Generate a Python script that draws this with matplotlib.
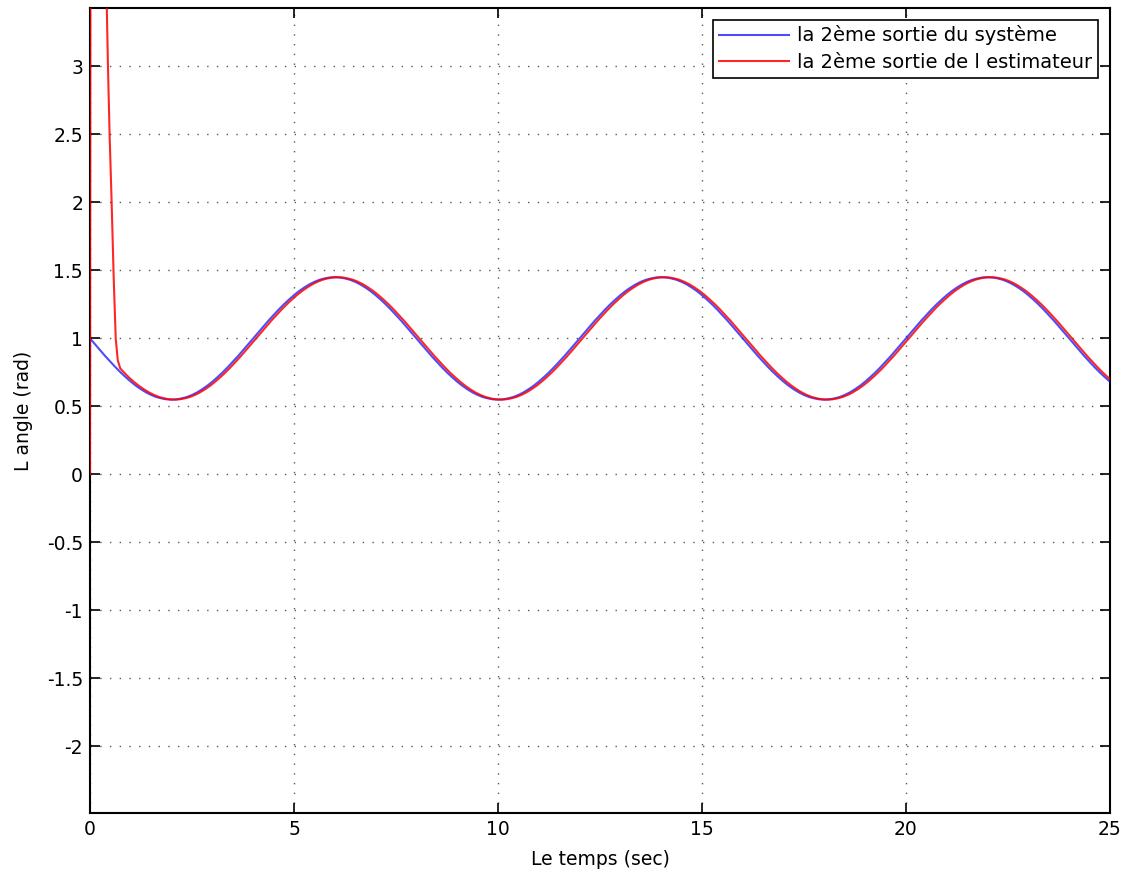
import numpy as np
import matplotlib
matplotlib.use("Agg")
import matplotlib.pyplot as plt

plt.rcParams['font.family'] = ['DejaVu Sans']

# Blue: system output, sampled every 0.125 s from 0 to 25 s
blue_t = np.linspace(0, 25, 201)
blue_y = [
    1.000, 0.956, 0.912, 0.869, 0.828, 0.788, 0.750, 0.715, 0.682, 0.652, 0.626, 0.603, 0.584, 0.569, 0.559, 0.552,
    0.550, 0.552, 0.559, 0.569, 0.584, 0.603, 0.626, 0.652, 0.682, 0.715, 0.750, 0.788, 0.828, 0.869, 0.912, 0.956,
    1.000, 1.044, 1.088, 1.131, 1.172, 1.212, 1.250, 1.285, 1.318, 1.348, 1.374, 1.397, 1.416, 1.431, 1.441, 1.448,
    1.450, 1.448, 1.441, 1.431, 1.416, 1.397, 1.374, 1.348, 1.318, 1.285, 1.250, 1.212, 1.172, 1.131, 1.088, 1.044,
    1.000, 0.956, 0.912, 0.869, 0.828, 0.788, 0.750, 0.715, 0.682, 0.652, 0.626, 0.603, 0.584, 0.569, 0.559, 0.552,
    0.550, 0.552, 0.559, 0.569, 0.584, 0.603, 0.626, 0.652, 0.682, 0.715, 0.750, 0.788, 0.828, 0.869, 0.912, 0.956,
    1.000, 1.044, 1.088, 1.131, 1.172, 1.212, 1.250, 1.285, 1.318, 1.348, 1.374, 1.397, 1.416, 1.431, 1.441, 1.448,
    1.450, 1.448, 1.441, 1.431, 1.416, 1.397, 1.374, 1.348, 1.318, 1.285, 1.250, 1.212, 1.172, 1.131, 1.088, 1.044,
    1.000, 0.956, 0.912, 0.869, 0.828, 0.788, 0.750, 0.715, 0.682, 0.652, 0.626, 0.603, 0.584, 0.569, 0.559, 0.552,
    0.550, 0.552, 0.559, 0.569, 0.584, 0.603, 0.626, 0.652, 0.682, 0.715, 0.750, 0.788, 0.828, 0.869, 0.912, 0.956,
    1.000, 1.044, 1.088, 1.131, 1.172, 1.212, 1.250, 1.285, 1.318, 1.348, 1.374, 1.397, 1.416, 1.431, 1.441, 1.448,
    1.450, 1.448, 1.441, 1.431, 1.416, 1.397, 1.374, 1.348, 1.318, 1.285, 1.250, 1.212, 1.172, 1.131, 1.088, 1.044,
    1.000, 0.956, 0.912, 0.869, 0.828, 0.788, 0.750, 0.715, 0.682,
]

# Red: estimator output - initial transient, then following the system with a slight lag
red_t_transient = [0.0, 0.02, 0.40, 0.44, 0.48, 0.53, 0.58, 0.63, 0.68, 0.74, 0.80]
red_y_transient = [0.0, 8.0, 3.6, 3.0, 2.5, 2.0, 1.45, 1.0, 0.84, 0.78, 0.76]
red_t_steady = np.linspace(0.945, 25.07, 194)
red_y_steady = [
    0.715, 0.682, 0.652, 0.626, 0.603, 0.584, 0.569, 0.559, 0.552,
    0.550, 0.552, 0.559, 0.569, 0.584, 0.603, 0.626, 0.652, 0.682, 0.715, 0.750, 0.788, 0.828, 0.869, 0.912, 0.956,
    1.000, 1.044, 1.088, 1.131, 1.172, 1.212, 1.250, 1.285, 1.318, 1.348, 1.374, 1.397, 1.416, 1.431, 1.441, 1.448,
    1.450, 1.448, 1.441, 1.431, 1.416, 1.397, 1.374, 1.348, 1.318, 1.285, 1.250, 1.212, 1.172, 1.131, 1.088, 1.044,
    1.000, 0.956, 0.912, 0.869, 0.828, 0.788, 0.750, 0.715, 0.682, 0.652, 0.626, 0.603, 0.584, 0.569, 0.559, 0.552,
    0.550, 0.552, 0.559, 0.569, 0.584, 0.603, 0.626, 0.652, 0.682, 0.715, 0.750, 0.788, 0.828, 0.869, 0.912, 0.956,
    1.000, 1.044, 1.088, 1.131, 1.172, 1.212, 1.250, 1.285, 1.318, 1.348, 1.374, 1.397, 1.416, 1.431, 1.441, 1.448,
    1.450, 1.448, 1.441, 1.431, 1.416, 1.397, 1.374, 1.348, 1.318, 1.285, 1.250, 1.212, 1.172, 1.131, 1.088, 1.044,
    1.000, 0.956, 0.912, 0.869, 0.828, 0.788, 0.750, 0.715, 0.682, 0.652, 0.626, 0.603, 0.584, 0.569, 0.559, 0.552,
    0.550, 0.552, 0.559, 0.569, 0.584, 0.603, 0.626, 0.652, 0.682, 0.715, 0.750, 0.788, 0.828, 0.869, 0.912, 0.956,
    1.000, 1.044, 1.088, 1.131, 1.172, 1.212, 1.250, 1.285, 1.318, 1.348, 1.374, 1.397, 1.416, 1.431, 1.441, 1.448,
    1.450, 1.448, 1.441, 1.431, 1.416, 1.397, 1.374, 1.348, 1.318, 1.285, 1.250, 1.212, 1.172, 1.131, 1.088, 1.044,
    1.000, 0.956, 0.912, 0.869, 0.828, 0.788, 0.750, 0.715, 0.682,
]
red_t = list(red_t_transient) + list(red_t_steady)
red_y = red_y_transient + red_y_steady

x_ticks = [0, 5, 10, 15, 20, 25]
y_ticks = [-2, -1.5, -1, -0.5, 0, 0.5, 1, 1.5, 2, 2.5, 3]
y_tick_labels = ['-2', '-1.5', '-1', '-0.5', '0', '0.5', '1', '1.5', '2', '2.5', '3']

label_blue = "la 2ème sortie du système"
label_red = "la 2ème sortie de l estimateur"

fig = plt.figure(figsize=(11.28, 8.82), dpi=100)
ax = fig.add_axes([0.0798, 0.0782, 0.9042, 0.9128])

ax.plot(blue_t, blue_y, color='#0000ff', lw=1.5, alpha=0.7, label=label_blue, zorder=3)
ax.plot(red_t, red_y, color='#ff0000', lw=1.5, alpha=0.85, label=label_red, zorder=3.1)

ax.set_xlim(0, 25)
ax.set_ylim(-2.49, 3.43)
ax.set_xticks(x_ticks)
ax.set_xticklabels([str(v) for v in x_ticks])
ax.set_yticks(y_ticks)
ax.set_yticklabels(y_tick_labels)

ax.tick_params(direction='in', length=7, width=1.2, top=True, right=True,
               labelsize=13.5, pad=5, colors='black')
for s in ax.spines.values():
    s.set_linewidth(1.5)
    s.set_color('black')

ax.grid(True, color='0.35', linestyle=(0, (1, 6)), linewidth=1.0)

ax.set_xlabel("Le temps (sec)", fontsize=13.5, labelpad=8)
ax.set_ylabel("L angle (rad)", fontsize=13.5, labelpad=10)

leg = ax.legend(loc='upper right', fontsize=14, frameon=True, fancybox=False,
                edgecolor='black', framealpha=1, borderpad=0.3, handlelength=3.6,
                handletextpad=0.45, labelspacing=0.4, borderaxespad=0.6)
leg.get_frame().set_linewidth(1.2)
leg.set_zorder(5)

fig.savefig("out.png", dpi=100)
